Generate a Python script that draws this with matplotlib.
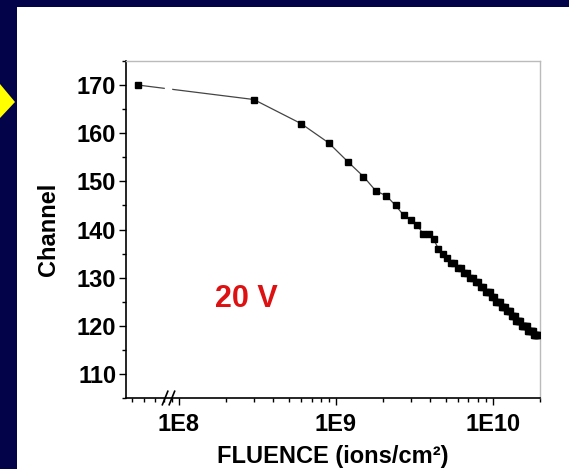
import matplotlib
matplotlib.use('Agg')
import matplotlib.pyplot as plt
from matplotlib.patches import Rectangle, Polygon
import matplotlib.transforms as mtransforms

plt.rcParams['font.family'] = ['Liberation Sans', 'DejaVu Sans']
plt.rcParams['font.weight'] = 'bold'

# fluence in units of 1e8 ions/cm2 (first point sits left of the axis break)
fluence_e8 = [0.55, 3, 6, 9, 12, 15, 18, 21, 24, 27, 30, 33, 36, 39, 42,
              45, 48, 51, 54, 57, 60, 63, 66, 69, 72, 75, 78, 81, 84, 87,
              90, 93, 96, 99, 102, 105, 108, 111, 114, 117, 120, 123, 126,
              129, 132, 135, 138, 141, 144, 147, 150, 153, 156, 159, 162,
              165, 168, 171, 174, 177, 180, 183, 186, 189, 192, 195]
channel = [170, 167, 162, 158, 154, 151, 148, 147, 145, 143, 142, 141, 139,
           139, 138, 136, 135, 134, 133, 133, 132, 132, 131, 131, 130, 130,
           129, 129, 128, 128, 127, 127, 127, 126, 126, 125, 125, 125, 124,
           124, 124, 123, 123, 123, 122, 122, 122, 121, 121, 121, 121, 120,
           120, 120, 120, 120, 119, 119, 119, 119, 119, 118, 118, 118, 118,
           118]
fluence = [f * 1e8 for f in fluence_e8]

y_ticks = [110, 120, 130, 140, 150, 160, 170]
x_ticks = [1e8, 1e9, 1e10]
x_labels = ['1E8', '1E9', '1E10']
break_at = 8.6e7

fig = plt.figure(figsize=(5.69, 4.69), dpi=100)
fig.patch.set_facecolor('#03034a')
# white slide panel
fig.patches.append(Rectangle((17 / 569, 0), 1, (469 - 7) / 469,
                             transform=fig.transFigure, facecolor='white',
                             edgecolor='none', zorder=-2))
# yellow pointer on the left
fig.patches.append(Polygon([(0, 1 - 84 / 469), (15 / 569, 1 - 102 / 469),
                            (0, 1 - 118 / 469)], closed=True,
                           transform=fig.transFigure, facecolor='#ffff00',
                           edgecolor='none', zorder=-1))

ax = fig.add_axes([126 / 569, 71 / 469, 414 / 569, 337 / 469])
ax.set_zorder(3)
ax.set_facecolor('white')
ax.plot(fluence, channel, color='#444444', lw=0.9, marker='s', ms=4.8,
        mfc='black', mec='black', zorder=3)
ax.set_xscale('log')
ax.set_xlim(4.6e7, 2.0e10)
ax.set_ylim(105, 175)

ax.set_yticks(y_ticks)
ax.set_yticks([105, 115, 125, 135, 145, 155, 165, 175], minor=True)
ax.set_xticks(x_ticks)
ax.set_xticklabels(x_labels)
ax.tick_params(axis='both', which='major', direction='out', length=5,
               width=1, labelsize=17, pad=2)
ax.tick_params(axis='both', which='minor', direction='out', length=3,
               width=1)
ax.tick_params(axis='x', labelsize=17, pad=6)

for s in ['top', 'right']:
    ax.spines[s].set_color('#bbbbbb')
    ax.spines[s].set_linewidth(1)
for s in ['left', 'bottom']:
    ax.spines[s].set_color('black')
    ax.spines[s].set_linewidth(1.2)

# axis break: gap in the line and "//" on the bottom axis
ax.axvspan(break_at * 0.95, break_at * 1.03, ymin=0.03, ymax=0.97,
           color='white', zorder=4)
trans = mtransforms.blended_transform_factory(ax.transData, ax.transAxes)
for k in [0.95, 1.05]:
    ax.plot([break_at * k * 0.96, break_at * k * 1.04], [-0.02, 0.02],
            color='black', lw=1.2, transform=trans, clip_on=False, zorder=5)

ax.set_ylabel('Channel', fontsize=17, fontweight='bold', labelpad=12)
ax.set_xlabel('FLUENCE (ions/cm²)', fontsize=17, fontweight='bold',
              labelpad=6)
ax.text(0.29, 0.295, '20 V', transform=ax.transAxes, color='#dd1111',
        fontsize=22, fontweight='bold', ha='center', va='center')

fig.savefig('out.png', dpi=100, facecolor=fig.get_facecolor())
